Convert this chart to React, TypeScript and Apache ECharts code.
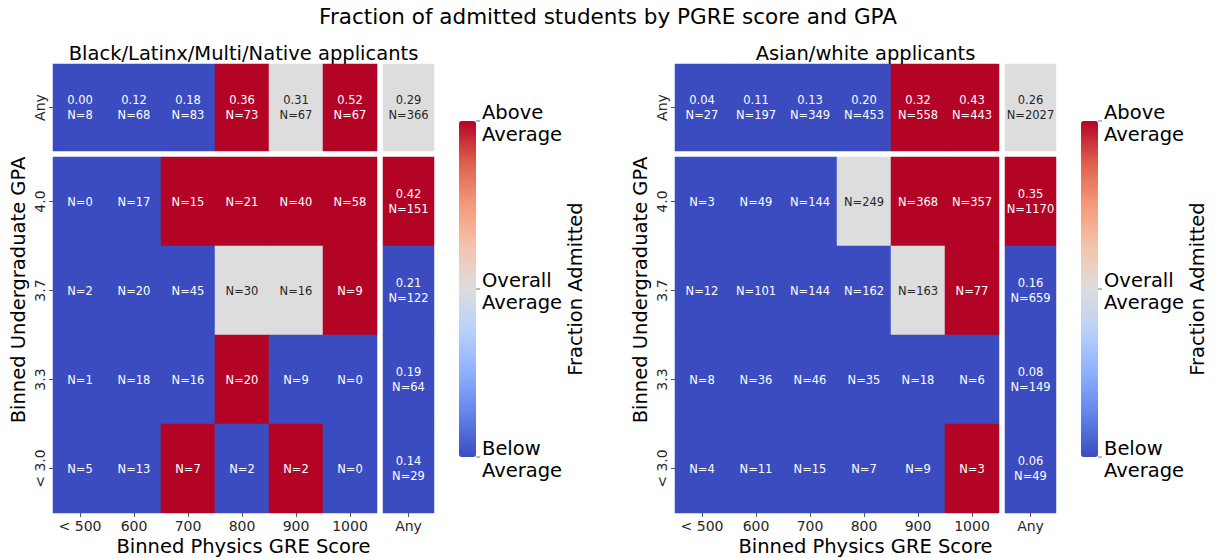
import React, { useEffect, useRef } from "react";
import * as echarts from "echarts";

const greBins = ["< 500", "600", "700", "800", "900", "1000"];
const gpaBins = ["4.0", "3.7", "3.3", "< 3.0"];
const anyLabel = ["Any"];

// level: -1 below average, 0 overall average, 1 above average
// Black/Latinx/Multi/Native applicants
const blkTopFrac = [0.0, 0.12, 0.18, 0.36, 0.31, 0.52];
const blkTopN = [8, 68, 83, 73, 67, 67];
const blkTopLevel = [-1, -1, -1, 1, 0, 1];
const blkAllFrac = 0.29;
const blkAllN = 366;
const blkAllLevel = 0;
const blkGridN = [
  [0, 17, 15, 21, 40, 58],
  [2, 20, 45, 30, 16, 9],
  [1, 18, 16, 20, 9, 0],
  [5, 13, 7, 2, 2, 0],
];
const blkGridLevel = [
  [-1, -1, 1, 1, 1, 1],
  [-1, -1, -1, 0, 0, 1],
  [-1, -1, -1, 1, -1, -1],
  [-1, -1, 1, -1, 1, -1],
];
const blkRowFrac = [0.42, 0.21, 0.19, 0.14];
const blkRowN = [151, 122, 64, 29];
const blkRowLevel = [1, -1, -1, -1];

// Asian/white applicants
const awTopFrac = [0.04, 0.11, 0.13, 0.2, 0.32, 0.43];
const awTopN = [27, 197, 349, 453, 558, 443];
const awTopLevel = [-1, -1, -1, -1, 1, 1];
const awAllFrac = 0.26;
const awAllN = 2027;
const awAllLevel = 0;
const awGridN = [
  [3, 49, 144, 249, 368, 357],
  [12, 101, 144, 162, 163, 77],
  [8, 36, 46, 35, 18, 6],
  [4, 11, 15, 7, 9, 3],
];
const awGridLevel = [
  [-1, -1, -1, 0, 1, 1],
  [-1, -1, -1, -1, 0, 1],
  [-1, -1, -1, -1, -1, -1],
  [-1, -1, -1, -1, -1, 1],
];
const awRowFrac = [0.35, 0.16, 0.08, 0.06];
const awRowN = [1170, 659, 149, 49];
const awRowLevel = [1, -1, -1, -1];

const panelTitles = ["Black/Latinx/Multi/Native applicants", "Asian/white applicants"];
const colorbarLabels = ["Above\nAverage", "Overall\nAverage", "Below\nAverage"];

const COOLWARM = [
  "#3b4cc0", "#6282ea", "#8db0fe", "#b8d0f9", "#dddddd",
  "#f4c4ad", "#f49a7b", "#de604d", "#b40426",
];

const FONT = "DejaVu Sans";
const TXT = "#262626";

interface PanelData {
  topFrac: number[]; topN: number[]; topLevel: number[];
  allFrac: number; allN: number; allLevel: number;
  gridN: number[][]; gridLevel: number[][];
  rowFrac: number[]; rowN: number[]; rowLevel: number[];
}

const panels: PanelData[] = [
  {
    topFrac: blkTopFrac, topN: blkTopN, topLevel: blkTopLevel,
    allFrac: blkAllFrac, allN: blkAllN, allLevel: blkAllLevel,
    gridN: blkGridN, gridLevel: blkGridLevel,
    rowFrac: blkRowFrac, rowN: blkRowN, rowLevel: blkRowLevel,
  },
  {
    topFrac: awTopFrac, topN: awTopN, topLevel: awTopLevel,
    allFrac: awAllFrac, allN: awAllN, allLevel: awAllLevel,
    gridN: awGridN, gridLevel: awGridLevel,
    rowFrac: awRowFrac, rowN: awRowN, rowLevel: awRowLevel,
  },
];

const textColor = (lv: number) => (lv === 0 ? TXT : "#ffffff");
const cell = (x: number, y: number, lv: number, txt: string) => ({
  value: [x, y, lv],
  txt,
  label: { color: textColor(lv) },
});

function buildOption() {
  const grid: any[] = [];
  const xAxis: any[] = [];
  const yAxis: any[] = [];
  const series: any[] = [];
  const visualMap: any[] = [];
  const graphic: any[] = [];

  const tickStyle = { show: true, length: 4, alignWithLabel: true, lineStyle: { color: "#555", width: 1 } };
  const lblStyle = { fontFamily: FONT, fontSize: 14, color: TXT, interval: 0 };

  panels.forEach((p, pi) => {
    const ox = 53 + pi * 622;
    const base = grid.length;
    // grids: top, topAny, main, rightAny
    grid.push({ left: ox, top: 64, width: 324, height: 87 });
    grid.push({ left: ox + 330, top: 64, width: 51, height: 87 });
    grid.push({ left: ox, top: 157, width: 324, height: 356 });
    grid.push({ left: ox + 330, top: 157, width: 51, height: 356 });

    const xcfg = (gi: number, data: string[], showLbl: boolean) => ({
      type: "category", gridIndex: gi, data,
      axisLine: { show: false }, splitLine: { show: false },
      axisTick: showLbl ? { ...tickStyle, interval: 0 } : { show: false },
      axisLabel: showLbl ? { ...lblStyle, margin: 6 } : { show: false },
    });
    const ycfg = (gi: number, data: string[], showLbl: boolean) => ({
      type: "category", gridIndex: gi, data, inverse: true,
      axisLine: { show: false }, splitLine: { show: false },
      axisTick: showLbl ? { ...tickStyle, interval: 0 } : { show: false },
      axisLabel: showLbl ? { ...lblStyle, rotate: 90, margin: 6 } : { show: false },
    });
    xAxis.push(xcfg(base, greBins, false));
    yAxis.push(ycfg(base, anyLabel, true));
    xAxis.push(xcfg(base + 1, anyLabel, false));
    yAxis.push(ycfg(base + 1, anyLabel, false));
    xAxis.push(xcfg(base + 2, greBins, true));
    yAxis.push(ycfg(base + 2, gpaBins, true));
    xAxis.push(xcfg(base + 3, anyLabel, true));
    yAxis.push(ycfg(base + 3, gpaBins, false));

    const topData = p.topFrac.map((f, i) => cell(i, 0, p.topLevel[i], `${f.toFixed(2)}\nN=${p.topN[i]}`));
    const allData = [cell(0, 0, p.allLevel, `${p.allFrac.toFixed(2)}\nN=${p.allN}`)];
    const mainData: any[] = [];
    p.gridN.forEach((row, r) => row.forEach((n, c) => mainData.push(cell(c, r, p.gridLevel[r][c], `N=${n}`))));
    const rowData = p.rowFrac.map((f, r) => cell(0, r, p.rowLevel[r], `${f.toFixed(2)}\nN=${p.rowN[r]}`));

    const seriesBase = series.length;
    [topData, allData, mainData, rowData].forEach((d, k) => {
      series.push({
        type: "heatmap",
        xAxisIndex: base + k,
        yAxisIndex: base + k,
        data: d,
        label: {
          show: true,
          formatter: (q: any) => q.data.txt,
          fontFamily: FONT,
          fontSize: 11.5,
          lineHeight: 15,
        },
        itemStyle: { borderWidth: 0 },
        emphasis: { disabled: true },
      });
    });

    const cbx = 459 + pi * 622;
    visualMap.push({
      type: "continuous",
      min: -1,
      max: 1,
      seriesIndex: [seriesBase, seriesBase + 1, seriesBase + 2, seriesBase + 3],
      inRange: { color: COOLWARM },
      calculable: false,
      show: true,
      left: cbx,
      top: 121,
      itemWidth: 17,
      itemHeight: 336,
      padding: 0,
      orient: "vertical",
    });

    [121, 289, 457].forEach((ty, i) => {
      graphic.push({
        type: "line",
        shape: { x1: cbx + 17, y1: ty, x2: cbx + 21, y2: ty },
        style: { stroke: "#777", lineWidth: 1 },
      });
      graphic.push({
        type: "text",
        x: cbx + 23,
        y: ty + 2,
        style: {
          text: colorbarLabels[i], fontFamily: FONT, fontSize: 19.5, lineHeight: 22,
          fill: "#000", align: "left", verticalAlign: "middle",
        },
      });
    });
    graphic.push({
      type: "text", x: 575 + pi * 622, y: 289, rotation: Math.PI / 2,
      style: { text: "Fraction Admitted", fontFamily: FONT, fontSize: 19.5, fill: "#000", align: "center", verticalAlign: "middle" },
    });
    graphic.push({
      type: "text", x: 18 + pi * 622, y: 290, rotation: Math.PI / 2,
      style: { text: "Binned Undergraduate GPA", fontFamily: FONT, fontSize: 19.5, fill: "#000", align: "center", verticalAlign: "middle" },
    });
    graphic.push({
      type: "text", x: 243.5 + pi * 622, y: 546,
      style: { text: "Binned Physics GRE Score", fontFamily: FONT, fontSize: 19.5, fill: "#000", align: "center", verticalAlign: "middle" },
    });
    graphic.push({
      type: "text", x: 243.5 + pi * 622, y: 53,
      style: { text: panelTitles[pi], fontFamily: FONT, fontSize: 19.5, fill: "#000", align: "center", verticalAlign: "middle" },
    });
  });

  graphic.push({
    type: "text", x: 608, y: 16,
    style: { text: "Fraction of admitted students by PGRE score and GPA", fontFamily: FONT, fontSize: 21.5, fill: "#000", align: "center", verticalAlign: "middle" },
  });

  return {
    animation: false,
    backgroundColor: "#ffffff",
    textStyle: { fontFamily: FONT },
    grid, xAxis, yAxis, series, visualMap, graphic,
  };
}

export default function App() {
  const ref = useRef<HTMLDivElement>(null);
  useEffect(() => {
    document.body.style.margin = "0";
    if (!ref.current) return;
    const chart = echarts.init(ref.current, undefined, { renderer: "svg" });
    chart.setOption(buildOption() as any);
    return () => chart.dispose();
  }, []);
  return <div ref={ref} style={{ width: 1216, height: 558 }} />;
}
